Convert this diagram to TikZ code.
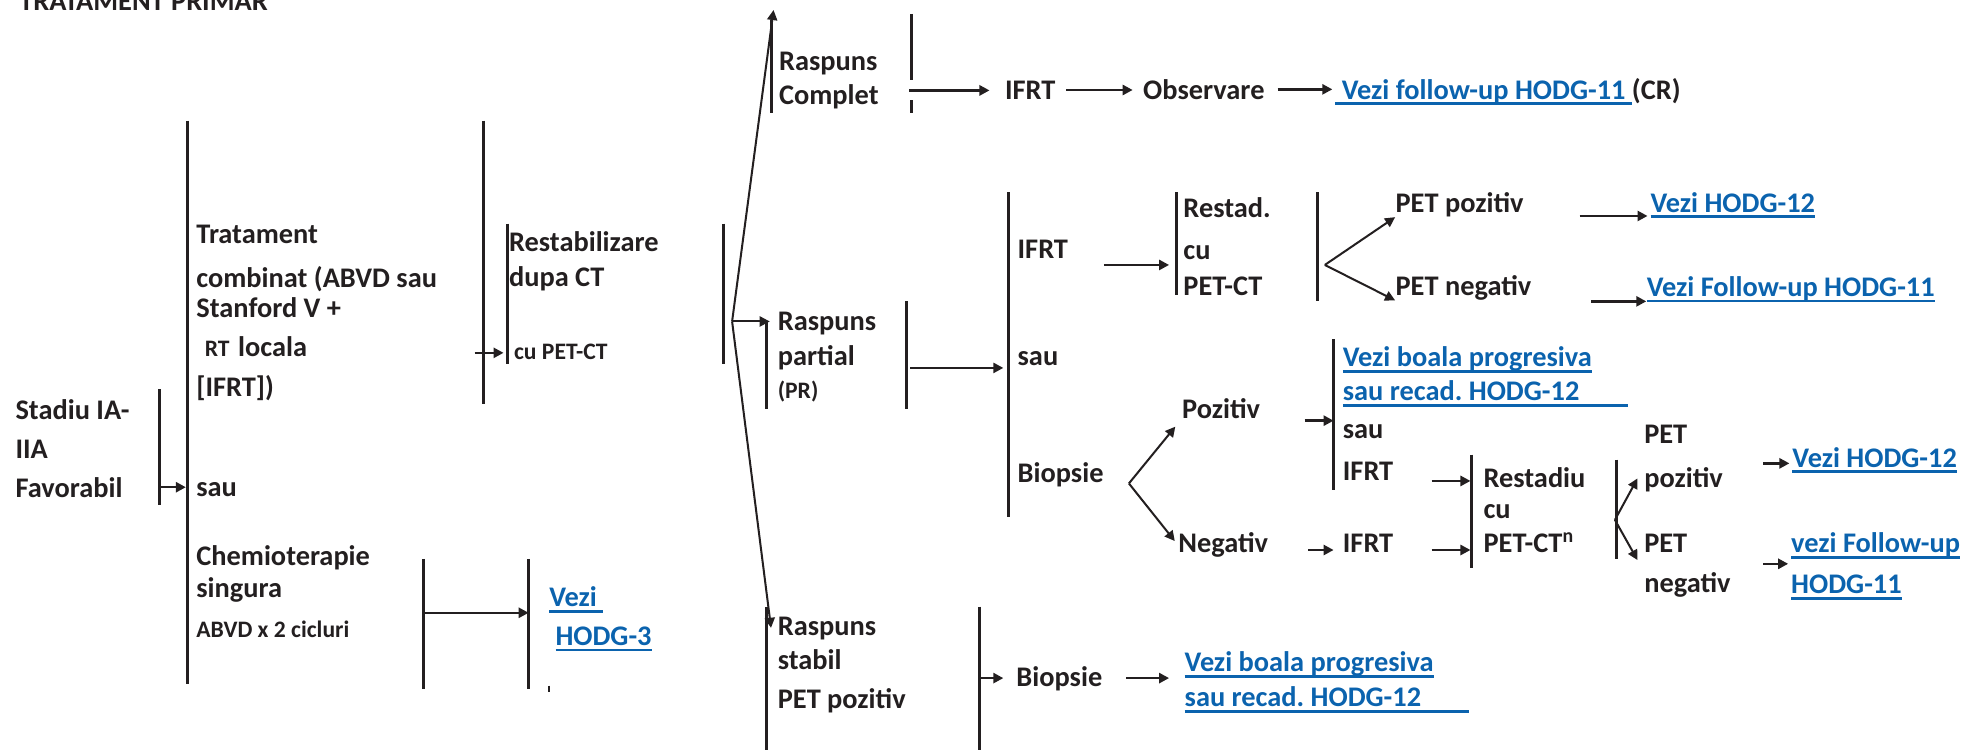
\documentclass[tikz,border=0pt]{standalone}
\usepackage{fontspec}
\setmainfont{Carlito}
\usetikzlibrary{arrows.meta,positioning}
\definecolor{HODGInk}{HTML}{231F20}
\definecolor{HODGLink}{HTML}{0B63AE}
\setlength{\lineskiplimit}{-100pt}
\newlength\lnkwd
\newcommand\lnk[1]{\settowidth\lnkwd{#1}\rlap{\rule[-2.4pt]{\lnkwd}{1.1pt}}#1}
\newcommand\smallfnt{\fontsize{9.4}{11}\selectfont}

\begin{document}
\begin{tikzpicture}[
    x=0.5pt, y=-0.5pt,
    txt/.style={anchor=base west, inner sep=0pt, align=left, text=HODGInk,
      font=\fontsize{11.3}{11}\selectfont\bfseries},
    link/.style={txt, text=HODGLink},
    bar/.style={draw=HODGInk, line width=1.2pt},
    arrow/.style={-{Triangle[length=4pt,width=4pt]}, line width=1pt, draw=HODGInk},
    fan/.style={arrow, line width=0.8pt}
  ]
    \useasboundingbox (0,0) rectangle (1568,597);

    \node[txt] (title) at (15,8) {TRATAMENT PRIMAR};

    % primary treatment (multi-line nodes sit on their last baseline)
    \node[txt] (stadiu) at (12,396) {Stadiu IA-\\[4.5pt]IIA\\[4.5pt]Favorabil};
    \node[txt] (trat) at (156,316) {Tratament\\[6.5pt]combinat (ABVD sau\\[1pt]Stanford V +\\[4.5pt]\hspace{0.3em}{\smallfnt RT}\hspace{0.3em}locala\\[5pt][IFRT])};
    \node[txt] (sau1) at (156,395) {sau};
    \node[txt] (chemo) at (156,508) {Chemioterapie\\[2pt]singura\\[5pt]{\smallfnt ABVD x 2 cicluri}};
    \node[link] (hodg3) at (437,514) {\lnk{Vezi\ }\\[4.5pt]\hspace{0.22em}\lnk{HODG-3}};
    \node[txt] (restab) at (405,228) {Restabilizare\\[3pt]dupa CT};
    \node[txt] (cupet) at (409,286) {\smallfnt cu PET-CT};

    % complete response
    \node[txt] (rc) at (620,83) {Raspuns\\[2.5pt]Complet};
    \node[txt] (ifrt1) at (800,79) {IFRT};
    \node[txt] (obs) at (910,79) {Observare};
    \node[link] (fu1) at (1063,79) {\lnk{\ Vezi follow-up HODG-11\ }\textcolor{HODGInk}{(CR)}};

    % partial response
    \node[txt] (rp) at (619,317) {Raspuns\\[3pt]partial\\[2pt]{\smallfnt (PR)}};
    \node[txt] (ifrt2) at (810,206) {IFRT};
    \node[txt] (sau2) at (810,291) {sau};
    \node[txt] (biop1) at (810,384) {Biopsie};
    \node[txt] (restad) at (942,235) {Restad.\\[6pt]cu\\[3pt]PET-CT};
    \node[txt] (petpoz) at (1111,169) {PET pozitiv};
    \node[txt] (petneg) at (1111,235) {PET negativ};
    \node[link] (h12a) at (1314,169) {\lnk{Vezi HODG-12}};
    \node[link] (fu2) at (1311,236) {\lnk{Vezi Follow-up HODG-11}};
    \node[txt] (poz) at (941,333) {Pozitiv};
    \node[txt] (neg) at (938,440) {Negativ};
    \node[link] (prog1) at (1069,319) {\lnk{Vezi boala progresiva}\\[2.5pt]\lnk{sau recad.\ HODG-12\hspace{1.7em}}};
    \node[txt] (sau3) at (1069,349) {sau};
    \node[txt] (ifrt3) at (1069,383) {IFRT};
    \node[txt] (ifrt4) at (1069,440) {IFRT};
    \node[txt] (restadiu) at (1181,440) {Restadiu\\[1.5pt]cu\\[2.5pt]PET-CT\textsuperscript{n}};
    \node[txt] (pet1) at (1309,388) {PET\\[6.5pt]pozitiv};
    \node[txt] (pet2) at (1309,472) {PET\\[5pt]negativ};
    \node[link] (h12b) at (1427,372) {\lnk{Vezi HODG-12}};
    \node[link] (fu3) at (1426,473) {\lnk{vezi Follow-up}\\[5.5pt]\lnk{HODG-11}};

    % stable disease
    \node[txt] (rs) at (619,564) {Raspuns\\[2.5pt]stabil\\[4.5pt]PET pozitiv};
    \node[txt] (biop2) at (809,547) {Biopsie};
    \node[link] (prog2) at (943,563) {\lnk{Vezi boala progresiva}\\[3pt]\lnk{sau recad.\ HODG-12\hspace{1.7em}}};

    % bars
    \draw[bar] (127,310) -- (127,402);
    \draw[bar] (149,96) -- (149,545);
    \draw[bar] (337,445) -- (337,549);
    \draw[bar] (421,445) -- (421,549);
    \draw[bar, line width=0.9pt] (437,546) -- (437,551);
    \draw[bar] (385,96) -- (385,322);
    \draw[bar] (404,178) -- (404,290);
    \draw[bar] (576,178) -- (576,290);
    \draw[bar] (614,16) -- (614,90);
    \draw[bar] (726,11) -- (726,64) (726,80) -- (726,90);
    \draw[bar] (610,256) -- (610,326);
    \draw[bar] (722,240) -- (722,326);
    \draw[bar] (803,153) -- (803,412);
    \draw[bar] (937,153) -- (937,235);
    \draw[bar] (1049,153) -- (1049,240);
    \draw[bar] (1062,270) -- (1062,390);
    \draw[bar] (1172,362) -- (1172,452);
    \draw[bar] (1287,366) -- (1287,445);
    \draw[bar] (610,483) -- (610,597);
    \draw[bar] (780,483) -- (780,597);

    % arrow ends on the bars
    \coordinate (st-out) at (127,388);
    \coordinate (ch-out) at (337,488);
    \coordinate (rb-in) at (378,281);
    \coordinate (fan1) at (583,256);
    \coordinate (rc-tip) at (616,8);
    \coordinate (rs-tip) at (614,500);
    \coordinate (rc-out) at (724,72);
    \coordinate (rp-out) at (725,293);
    \coordinate (ifrt2-out) at (879,211);
    \coordinate (fan2) at (1055,211);
    \coordinate (petpoz-out) at (1258,172);
    \coordinate (petneg-out) at (1267,240);
    \coordinate (fan3) at (899,385);
    \coordinate (poz-out) at (1039,335);
    \coordinate (neg-out) at (1042,438);
    \coordinate (ifrt3-out) at (1140,383);
    \coordinate (ifrt4-out) at (1140,438);
    \coordinate (fan4) at (1286,414);
    \coordinate (fan4-up) at (1304,381);
    \coordinate (fan4-dn) at (1304,446);
    \coordinate (pet1-out) at (1404,369);
    \coordinate (pet2-out) at (1404,449);
    \coordinate (rs-out) at (779,540);
    \coordinate (biop2-out) at (897,540);

    \draw[arrow, shorten >=4pt] (st-out) -- (st-out -| sau1.west);
    \draw[arrow, shorten >=8pt] (ch-out) -- (ch-out -| hodg3.west);
    \draw[arrow, shorten >=2pt] (rb-in) -- (rb-in -| restab.west);

    \draw[fan] (fan1) -- (rc-tip);
    \draw[fan, shorten >=3pt] (fan1) -- (fan1 -| rp.west);
    \draw[fan] (fan1) -- (rs-tip);

    \draw[arrow, shorten >=6pt] (rc-out) -- (rc-out -| ifrt1.west);
    \draw[arrow, shorten <=4pt, shorten >=4pt] (ifrt1.east) -- (ifrt1.east -| obs.west);
    \draw[arrow, shorten <=5pt, shorten >=1pt] (obs.east) -- (obs.east -| fu1.west);

    \draw[arrow, shorten >=5.5pt] (rp-out) -- (rp-out -| sau2.west);
    \draw[arrow, shorten >=5.5pt] (ifrt2-out) -- (ifrt2-out -| restad.west);
    \draw[fan] (fan2) -- (petpoz.south west);
    \draw[fan] (fan2) -- (petneg.south west);
    \draw[arrow, shorten >=1pt] (petpoz-out) -- (petpoz-out -| h12a.west);
    \draw[arrow] (petneg-out) -- (petneg-out -| fu2.west);

    \draw[fan, shorten >=4pt] (fan3) -- (poz.south west);
    \draw[fan, shorten >=2pt] (fan3) -- (neg.west);
    \draw[arrow, shorten >=3.5pt] (poz-out) -- (poz-out -| prog1.west);
    \draw[arrow, shorten >=3.5pt] (neg-out) -- (neg-out -| ifrt4.west);
    \draw[arrow, shorten >=5pt] (ifrt3-out) -- (ifrt3-out -| restadiu.west);
    \draw[arrow, shorten >=5pt] (ifrt4-out) -- (ifrt4-out -| restadiu.west);
    \draw[fan] (fan4) -- (fan4-up);
    \draw[fan] (fan4) -- (fan4-dn);
    \draw[arrow, shorten >=1pt] (pet1-out) -- (pet1-out -| h12b.west);
    \draw[arrow, shorten >=1pt] (pet2-out) -- (pet2-out -| fu3.west);

    \draw[arrow, shorten >=5pt] (rs-out) -- (rs-out -| biop2.west);
    \draw[arrow, shorten >=6pt] (biop2-out) -- (biop2-out -| prog2.west);
  \end{tikzpicture}
\end{document}
